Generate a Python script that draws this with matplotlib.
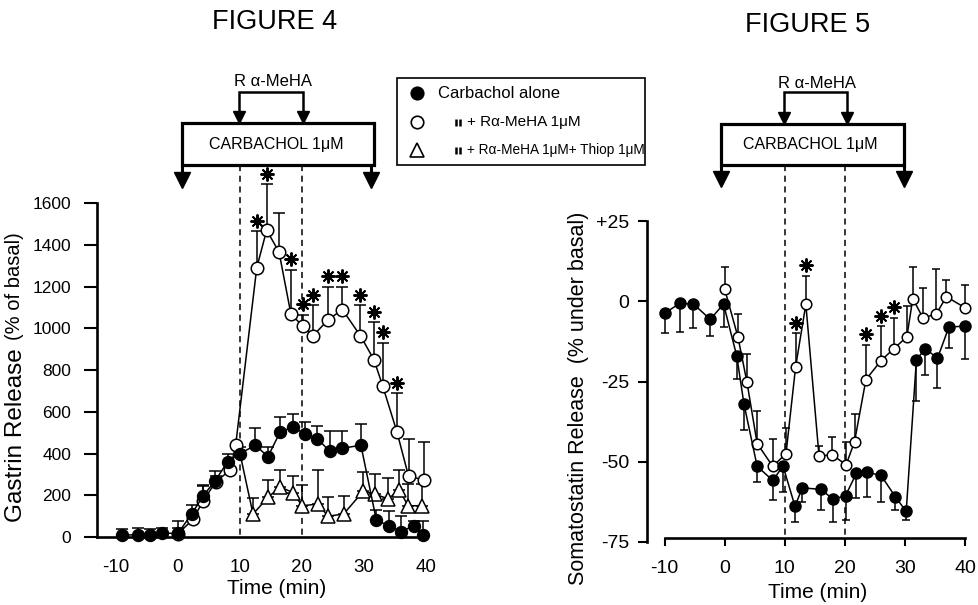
import matplotlib
matplotlib.use('Agg')
import matplotlib.pyplot as plt
import numpy as np
from matplotlib.transforms import blended_transform_factory, offset_copy
from matplotlib.patches import Rectangle
from matplotlib.lines import Line2D

plt.rcParams['font.family'] = ['Liberation Sans', 'DejaVu Sans']
plt.rcParams['axes.unicode_minus'] = False

# ---------------- DATA : FIGURE 4 (Gastrin release, % of basal) ----------------
f4_carb_t = [-9, -6.5, -4.5, -2.5, 0, 2.2, 4, 6, 8, 10, 12.5, 14.5, 16.5, 18.5,
             20.5, 22.5, 24.5, 26.5, 29.5, 32, 34, 36, 38, 39.5]
f4_carb_y = [8, 12, 12, 18, 18, 110, 195, 270, 360, 400, 440, 385, 505, 525,
             495, 470, 410, 425, 440, 80, 55, 25, 55, 12]
f4_carb_e = [32, 33, 28, 27, 27, 45, 50, 45, 40, 30, 80, 45, 70, 65,
             55, 60, 100, 85, 100, 50, 70, 75, 20, 63]

f4_meha_t = [0, 2.4, 4.1, 6.1, 8.4, 9.3, 12.7, 14.3, 16.3, 18.2, 20.1, 21.8,
             24.2, 26.5, 29.4, 31.6, 33, 35.3, 37.2, 39.6]
f4_meha_y = [15, 85, 175, 265, 320, 440, 1290, 1470, 1365, 1070, 1010, 965,
             1040, 1090, 965, 850, 725, 505, 290, 275]
f4_meha_e = [60, 15, 75, 25, 10, 5, 175, 220, 185, 210, 55, 145,
             160, 110, 145, 180, 205, 185, 180, 180]
f4_meha_sig = [6, 7, 9, 10, 11, 12, 13, 14, 15, 16, 17]

f4_thio_t = [10, 12.1, 14.5, 16.5, 18.6, 20, 22.6, 24.2, 26.7, 29.9, 31.8,
             33.9, 35.7, 37.1, 39.3]
f4_thio_y = [400, 110, 190, 240, 212, 150, 158, 100, 110, 220, 205,
             183, 225, 150, 150]
f4_thio_e = [0, 75, 85, 80, 78, 100, 162, 90, 85, 90, 95,
             102, 95, 105, 105]

f4_xticks = [-10, 0, 10, 20, 30, 40]
f4_yticks = [0, 200, 400, 600, 800, 1000, 1200, 1400, 1600]

# ---------------- DATA : FIGURE 5 (Somatostatin release, % under basal) ----------------
f5_carb_t = [-10, -7.5, -5.2, -2.4, -0.2, 2.0, 3.2, 5.4, 8.0, 9.7, 11.7, 12.9,
             16.0, 18.0, 20.1, 21.9, 23.7, 26.0, 28.4, 30.2, 31.9, 33.4,
             35.4, 37.3, 40.0]
f5_carb_y = [-3.7, -0.6, -0.8, -5.6, -0.8, -17, -32, -51.5, -55.9, -51.4,
             -64, -58.2, -58.7, -61.7, -60.7, -53.7, -53.4, -54.3, -61,
             -65.6, -18.2, -14.7, -17.8, -8, -7.7]
f5_carb_e = [6.3, 9, 7.4, 5.2, 7.2, 7.3, 8, 5, 6.1, 8.2, 5, 4.3, 6.3, 7.1,
             7.5, 7.7, 7.6, 8.2, 4, 2.6, 12.8, 8.3, 9.2, 6.4, 10.3]

f5_meha_t = [0, 2.2, 3.7, 5.4, 8.0, 10.2, 11.8, 13.5, 15.7, 17.8, 20.2, 21.6,
             23.5, 26.0, 28.1, 30.3, 31.3, 33.0, 35.2, 36.9, 40.0]
f5_meha_y = [3.8, -11.1, -25.2, -44.4, -51.5, -47.5, -20.4, -0.9, -48.4,
             -47.8, -51, -43.8, -24.4, -18.5, -14.8, -11.1, 0.9, -5.2, -3.9,
             1.5, -2]
f5_meha_e = [7, 7.2, 8.9, 10.1, 8.5, 8.1, 10.4, 9, 3.4, 5.5, 7, 8.8, 10.9,
             10.8, 9.7, 9.8, 9.9, 9.5, 13.9, 5.1, 7.2]
f5_meha_sig = [6, 7, 12, 13, 14]

f5_xticks = [-10, 0, 10, 20, 30, 40]
f5_yticks = [25, 0, -25, -50, -75]
f5_yticklabels = ['+25', '0', '-25', '-50', '-75']

legend_labels = ['Carbachol alone', '+ R\u03b1-MeHA 1\u03bcM',
                 '+ R\u03b1-MeHA 1\u03bcM+ Thiop 1\u03bcM']
legend_sizes = [12, 11, 9.8]
box_label = 'CARBACHOL 1\u03bcM'
bracket_label = 'R \u03b1-MeHA'

# ---------------- FIGURE ----------------
W, H = 979, 605
fig = plt.figure(figsize=(W / 100, H / 100), dpi=100)


def fx(px):
    return px / W


def fy(py):
    return 1 - py / H


def pw(px):
    return px / W


def ph(py):
    return py / H


K = 'black'

# ---------- Figure 4 axes ----------
ax4 = fig.add_axes([fx(97.4), fy(543.3), pw(432.2 - 97.4), ph(543.3 - 192.6)])
ax4.set_xlim(-13, 41)
ax4.set_ylim(-30, 1650)
for s in ['top', 'right']:
    ax4.spines[s].set_visible(False)
ax4.spines['left'].set_linewidth(1.9)
ax4.spines['bottom'].set_linewidth(1.9)
ax4.spines['left'].set_bounds(0, 1600)
ax4.spines['bottom'].set_position(('data', 0))
ax4.spines['bottom'].set_bounds(-13, 40)
ax4.set_xticks(f4_xticks)
ax4.set_yticks(f4_yticks)
ax4.tick_params(axis='x', length=0, pad=16, labelsize=13.5)
ax4.tick_params(axis='y', length=9.4, width=1.5, pad=9.4, labelsize=12.5,
                direction='out')
ax4.patch.set_visible(False)

ms4 = 9
eb_kw = dict(fmt='none', ecolor=K, elinewidth=1.1, capsize=4.3, capthick=1.1,
             clip_on=False, zorder=2)
# triangles
ax4.errorbar(f4_thio_t, f4_thio_y, yerr=[np.zeros(len(f4_thio_e)), f4_thio_e], **eb_kw)
ax4.plot(f4_thio_t, f4_thio_y, color=K, lw=1.1, marker='^', ms=9.5, mfc='white',
         mec=K, mew=1.1, markevery=list(range(1, len(f4_thio_t))), clip_on=False,
         zorder=3)
# open circles
ax4.errorbar(f4_meha_t, f4_meha_y, yerr=[np.zeros(len(f4_meha_e)), f4_meha_e], **eb_kw)
ax4.plot(f4_meha_t, f4_meha_y, color=K, lw=1.1, marker='o', ms=ms4, mfc='white',
         mec=K, mew=1.1, clip_on=False, zorder=3)
# filled circles
ax4.errorbar(f4_carb_t, f4_carb_y, yerr=[np.zeros(len(f4_carb_e)), f4_carb_e], **eb_kw)
ax4.plot(f4_carb_t, f4_carb_y, color=K, lw=1.1, marker='o', ms=8.6, mfc=K,
         mec=K, mew=1.0, clip_on=False, zorder=4)
# asterisks (significance)
tr4 = offset_copy(ax4.transData, fig=fig, x=0, y=7.5, units='points')
sx = [f4_meha_t[i] for i in f4_meha_sig]
sy = [f4_meha_y[i] + f4_meha_e[i] for i in f4_meha_sig]
ax4.plot(sx, sy, ls='none', marker=(8, 2, 0), ms=10, mec=K, mew=1.4,
         transform=tr4, clip_on=False, zorder=5)

# ---------- Figure 5 axes ----------
ax5 = fig.add_axes([fx(646.6), fy(544.8), pw(971.1 - 646.6), ph(544.8 - 215.0)])
ax5.set_xlim(-13, 41)
ax5.set_ylim(-76, 27)
for s in ['top', 'right']:
    ax5.spines[s].set_visible(False)
ax5.spines['left'].set_linewidth(1.9)
ax5.spines['bottom'].set_linewidth(1.9)
ax5.spines['left'].set_bounds(-75, 25)
ax5.spines['bottom'].set_position(('data', -74))
ax5.spines['bottom'].set_bounds(-10, 40)
ax5.set_xticks(f5_xticks)
ax5.set_yticks(f5_yticks)
ax5.set_yticklabels(f5_yticklabels)
ax5.tick_params(axis='x', length=5.8, width=1.5, pad=10, labelsize=14,
                direction='out')
ax5.tick_params(axis='y', length=6.5, width=1.5, pad=5.8, labelsize=14,
                direction='out')
ax5.patch.set_visible(False)

eb5 = dict(fmt='none', ecolor=K, elinewidth=1.1, capsize=3.2, capthick=1.1,
           clip_on=False, zorder=2)
ax5.errorbar(f5_meha_t, f5_meha_y, yerr=[np.zeros(len(f5_meha_e)), f5_meha_e], **eb5)
ax5.plot(f5_meha_t, f5_meha_y, color=K, lw=1.1, marker='o', ms=7.6, mfc='white',
         mec=K, mew=1.1, clip_on=False, zorder=3)
ax5.errorbar(f5_carb_t, f5_carb_y, yerr=[f5_carb_e, np.zeros(len(f5_carb_e))], **eb5)
ax5.plot(f5_carb_t, f5_carb_y, color=K, lw=1.1, marker='o', ms=8, mfc=K,
         mec=K, mew=1.0, clip_on=False, zorder=4)
tr5 = offset_copy(ax5.transData, fig=fig, x=0, y=7.5, units='points')
sx5 = [f5_meha_t[i] for i in f5_meha_sig]
sy5 = [f5_meha_y[i] + f5_meha_e[i] for i in f5_meha_sig]
ax5.plot(sx5, sy5, ls='none', marker=(8, 2, 0), ms=10, mec=K, mew=1.4,
         transform=tr5, clip_on=False, zorder=5)


# ---------- header diagrams (treatment schedule) ----------
def header(ax, x0, x1, ax0, ax1, b0, b1, box_top, box_bot, tip_y, bracket_top,
           bracket_tip, text_x, text_y, brtext_x, brtext_y, axis_py):
    T = blended_transform_factory(ax.transData, fig.transFigure)
    # dashed lines at drug start / stop
    for xv in (10, 20):
        ax.plot([xv, xv], [fy(box_bot), fy(axis_py)], transform=T, color=K,
                lw=1.1, ls=(0, (4, 3)), clip_on=False, zorder=1)
    ax.add_patch(Rectangle((x0, fy(box_bot)), x1 - x0, ph(box_bot - box_top),
                           transform=T, facecolor='white', edgecolor=K, lw=2.3,
                           clip_on=False, zorder=6))
    ax.text(text_x, fy(text_y), box_label, transform=T, ha='center', va='center',
            fontsize=11.5, zorder=7)
    # big arrows down
    for xa in (ax0, ax1):
        ax.plot([xa, xa], [fy(box_bot), fy(tip_y - 10)], transform=T, color=K,
                lw=2.2, clip_on=False, zorder=6, solid_capstyle='butt')
        ax.plot([xa], [fy(tip_y - 8)], transform=T, marker='v', ms=11.5, color=K,
                mec=K, clip_on=False, zorder=6, ls='none')
    # bracket
    ax.plot([b0, b0, b1, b1], [fy(bracket_tip - 8), fy(bracket_top), fy(bracket_top),
                               fy(bracket_tip - 8)], transform=T, color=K, lw=1.8,
            clip_on=False, zorder=6, solid_joinstyle='miter')
    for xb in (b0, b1):
        ax.plot([xb], [fy(bracket_tip - 6)], transform=T, marker='v', ms=8.5,
                color=K, clip_on=False, zorder=6, ls='none')
    ax.text(brtext_x, fy(brtext_y), bracket_label, transform=T, ha='center',
            va='center', fontsize=12, zorder=7)


header(ax4, 0.6, 31.6, 0.6, 31.2, 9.9, 20.2, 123, 165, 188, 92, 123,
       15.8, 145, 15.3, 82, 537)
header(ax5, -0.6, 29.8, -0.6, 29.8, 9.8, 20.3, 124, 165, 187, 92, 124,
       14.2, 145, 15.3, 83, 535)

# ---------- titles and axis labels ----------
fig.text(fx(275), fy(22), 'FIGURE 4', ha='center', va='center', fontsize=19.5)
fig.text(fx(808), fy(25), 'FIGURE 5', ha='center', va='center', fontsize=19.5)
fig.text(fx(277), fy(588), 'Time (min)', ha='center', va='center', fontsize=15)
fig.text(fx(818), fy(593), 'Time (min)', ha='center', va='center', fontsize=15)
fig.text(fx(16), fy(435), 'Gastrin Release', rotation=90, ha='center',
         va='center', fontsize=17.5)
fig.text(fx(15), fy(286), '(% of basal)', rotation=90, ha='center',
         va='center', fontsize=14.5)
fig.text(fx(579), fy(398), 'Somatostatin Release  (% under basal)', rotation=90,
         ha='center', va='center', fontsize=15.5)

# ---------- legend ----------
fig.add_artist(Rectangle((fx(397), fy(165)), pw(645 - 397), ph(165 - 78),
                         transform=fig.transFigure, fill=False, edgecolor=K,
                         lw=1.2))
rows_y = [93, 122, 150]
mk = [dict(marker='o', ms=9, mfc=K, mec=K), dict(marker='o', ms=9, mfc='white', mec=K),
      dict(marker='^', ms=10, mfc='white', mec=K)]
for ry, m in zip(rows_y, mk):
    fig.add_artist(Line2D([fx(417)], [fy(ry)], transform=fig.transFigure,
                          ls='none', mew=1.2, **m))
fig.text(fx(438), fy(rows_y[0]), legend_labels[0], ha='left', va='center',
         fontsize=legend_sizes[0])
for ry, lab, fs in zip(rows_y[1:], legend_labels[1:], legend_sizes[1:]):
    # ditto mark (two short thick bars)
    for dx in (456, 460.5):
        fig.add_artist(Line2D([fx(dx), fx(dx)], [fy(ry + 4), fy(ry - 3.5)],
                              transform=fig.transFigure, color=K, lw=1.8,
                              solid_capstyle='butt'))
    fig.text(fx(467), fy(ry), lab, ha='left', va='center', fontsize=fs)

fig.savefig('out.png', dpi=100, facecolor='white')
